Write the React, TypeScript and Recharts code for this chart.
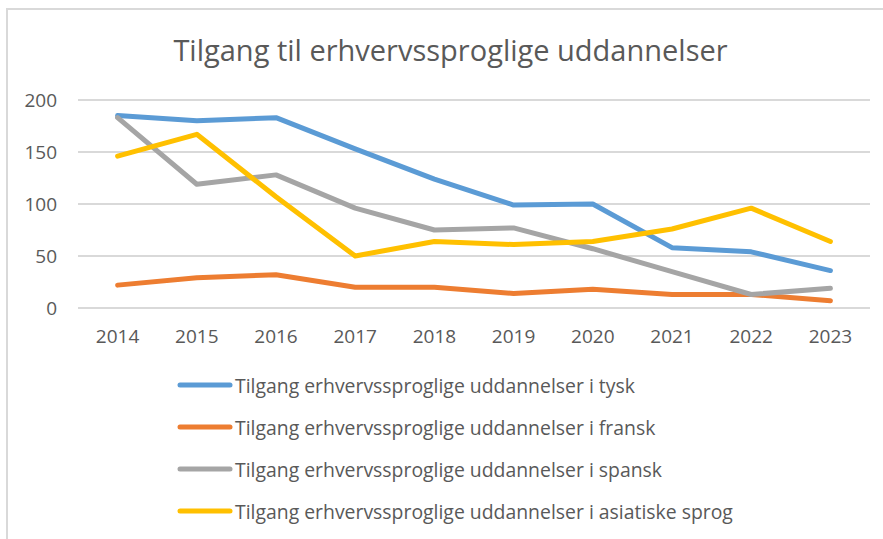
import { LineChart, Line, XAxis, YAxis, CartesianGrid, Legend } from "recharts";

const years = ["2014", "2015", "2016", "2017", "2018", "2019", "2020", "2021", "2022", "2023"];
const tysk = [185, 180, 183, 153, 124, 99, 100, 58, 54, 36];
const fransk = [22, 29, 32, 20, 20, 14, 18, 13, 13, 7];
const spansk = [183, 119, 128, 96, 75, 77, 57, 35, 13, 19];
const asiatisk = [146, 167, 107, 50, 64, 61, 64, 76, 96, 64];
const yTicks = [0, 50, 100, 150, 200];

const series = [
  { key: "tysk", name: "Tilgang erhvervssproglige uddannelser i tysk", color: "#5B9BD5", values: tysk },
  { key: "fransk", name: "Tilgang erhvervssproglige uddannelser i fransk", color: "#ED7D31", values: fransk },
  { key: "spansk", name: "Tilgang erhvervssproglige uddannelser i spansk", color: "#A5A5A5", values: spansk },
  { key: "asiatisk", name: "Tilgang erhvervssproglige uddannelser i asiatiske sprog", color: "#FFC000", values: asiatisk },
];

const data = years.map((year, i) => {
  const row: Record<string, string | number> = { year };
  series.forEach((s) => {
    row[s.key] = s.values[i];
  });
  return row;
});

const font = "'Open Sans', sans-serif";
const textColor = "#595959";

const renderLegend = () => (
  <div style={{ fontFamily: font, fontSize: 19.4, color: textColor }}>
    {series.map((s) => (
      <div key={s.key} style={{ display: "flex", alignItems: "center", height: 42, whiteSpace: "nowrap" }}>
        <svg width={56} height={8} style={{ marginRight: 2, flexShrink: 0 }}>
          <line x1={3} y1={4} x2={53} y2={4} stroke={s.color} strokeWidth={5} strokeLinecap="round" />
        </svg>
        <span>{s.name}</span>
      </div>
    ))}
  </div>
);

export default function App() {
  return (
    <div style={{ position: "absolute", left: 0, top: 0, width: 883, height: 539, overflow: "hidden", background: "#fff" }}>
      <style>{`body{margin:0;overflow:hidden}`}</style>
      <div
        style={{
          position: "absolute",
          left: 6,
          top: 8,
          width: 900,
          height: 560,
          border: "2px solid #D9D9D9",
          boxSizing: "border-box",
        }}
      />
      <div
        style={{
          position: "absolute",
          left: 0,
          width: 901,
          top: 30,
          textAlign: "center",
          fontFamily: font,
          fontSize: 29,
          color: textColor,
        }}
      >
        Tilgang til erhvervssproglige uddannelser
      </div>
      <div style={{ position: "absolute", left: 0, top: 0 }}>
        <LineChart width={883} height={539} data={data} margin={{ top: 100, right: 13, left: 18, bottom: 201 }}>
          <CartesianGrid vertical={false} stroke="#D9D9D9" strokeWidth={2} />
          <XAxis
            dataKey="year"
            axisLine={false}
            tickLine={false}
            tickSize={0}
            tickMargin={22}
            height={30}
            padding={{ left: 39.6, right: 39.6 }}
            tick={{ fill: textColor, fontSize: 19, fontFamily: font }}
            interval={0}
          />
          <YAxis
            domain={[0, 200]}
            ticks={yTicks}
            axisLine={false}
            tickLine={false}
            tickSize={0}
            tickMargin={21}
            width={60}
            tick={{ fill: textColor, fontSize: 19, fontFamily: font }}
          />
          <Legend
            layout="vertical"
            align="center"
            verticalAlign="middle"
            wrapperStyle={{ left: 177, top: 364, width: 680 }}
            content={renderLegend}
          />
          {series.map((s) => (
            <Line
              key={s.key}
              dataKey={s.key}
              name={s.name}
              stroke={s.color}
              strokeWidth={5}
              strokeLinecap="round"
              strokeLinejoin="round"
              dot={false}
              isAnimationActive={false}
            />
          ))}
        </LineChart>
      </div>
    </div>
  );
}
